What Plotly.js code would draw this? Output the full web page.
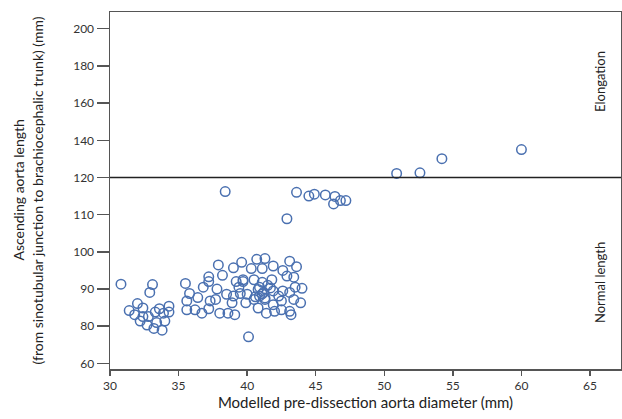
<!DOCTYPE html>
<html>
<head>
<meta charset="utf-8">
<script src="https://cdn.plot.ly/plotly-3.0.1.min.js"></script>
<style>html,body{margin:0;padding:0;background:#fff;}#chart{width:622px;height:419px;}</style>
</head>
<body>
<div id="chart"></div>
<script>
// Modelled pre-dissection aorta diameter (mm)
var diameter = [
  38.4, 43.6, 44.5, 44.9, 45.7, 46.4, 46.3, 46.8, 47.2, 42.9,
  50.9, 52.6, 54.2, 60.0,
  30.8, 33.1, 32.9, 31.4, 32.0, 31.8, 32.4, 32.2, 32.7, 33.2,
  33.8, 32.8, 33.3, 33.6, 34.3, 34.3, 34.0, 33.4, 32.4, 33.9,
  35.5, 35.8, 35.6, 35.6, 36.2, 36.7, 36.4, 36.8, 37.2, 37.2,
  37.3, 37.2, 37.9, 37.8, 37.7, 38.2, 38.0, 38.6, 39.1, 38.5,
  39.0, 39.6, 39.2, 39.4, 39.7, 39.5, 39.9, 38.9, 39.0, 40.1,
  40.7, 41.3, 40.3, 41.1, 41.9, 42.6, 43.1, 43.6, 42.9, 43.4,
  43.5, 44.0, 43.1, 43.4, 43.1, 43.2, 42.5, 41.9, 41.4, 40.8,
  40.5, 40.0, 39.7, 40.5, 40.9, 41.2, 41.5, 41.9, 42.3, 42.6,
  41.8, 41.3, 40.9, 42.5, 42.0, 43.9, 40.8, 41.1, 41.3, 41.7,
  40.6, 41.1
];
// Ascending aorta length (mm)
var aortaLength = [
  116.2, 116.0, 115.0, 115.5, 115.3, 114.9, 112.9, 113.8, 113.8, 108.9,
  122.2, 122.5, 130.1, 135.0,
  91.3, 91.2, 89.1, 84.2, 86.1, 83.1, 84.9, 81.4, 80.3, 78.8,
  77.9, 82.6, 83.8, 84.7, 85.4, 83.8, 81.4, 81.0, 82.6, 83.5,
  91.5, 88.8, 86.8, 84.4, 84.4, 83.5, 87.7, 90.5, 93.3, 92.0,
  86.8, 84.7, 96.5, 90.0, 87.2, 93.7, 83.5, 83.5, 83.1, 88.6,
  95.7, 97.2, 92.0, 90.5, 92.5, 88.8, 86.3, 86.3, 88.1, 74.3,
  98.0, 98.2, 95.5, 95.5, 96.2, 95.0, 97.5, 96.0, 93.5, 93.2,
  90.5, 90.2, 89.1, 87.2, 84.0, 83.1, 84.4, 85.8, 83.5, 84.9,
  87.2, 88.6, 92.0, 92.5, 90.5, 89.1, 91.0, 89.5, 88.1, 89.5,
  92.5, 87.2, 88.1, 86.8, 84.0, 86.3, 89.9, 88.7, 87.6, 90.3,
  87.9, 91.8
];
// Unevenly spaced y-axis tick values (each drawn at an equal step)
var yTickValues = [60, 80, 90, 100, 110, 120, 140, 160, 180, 200];
var xTickValues = [30, 35, 40, 45, 50, 55, 60, 65];
var thresholdLength = 120;
var regionLabels = ["Elongation", "Normal length"];

function ymap(v) {
  var t = yTickValues;
  if (v <= t[0]) return (v - t[0]) / (t[1] - t[0]);
  for (var i = 0; i < t.length - 1; i++) {
    if (v <= t[i + 1]) return i + (v - t[i]) / (t[i + 1] - t[i]);
  }
  var n = t.length - 1;
  return n + (v - t[n]) / (t[n] - t[n - 1]);
}

var blue = "rgb(74,112,176)";
var traces = [{
  type: "scatter",
  mode: "markers",
  x: diameter,
  y: aortaLength.map(ymap),
  marker: { symbol: "circle-open", size: 9.5, color: blue, line: { width: 1.5, color: blue } },
  hoverinfo: "skip",
  showlegend: false
}];

var fontFam = "Lato, 'Open Sans', sans-serif";
var layout = {
  width: 622, height: 419,
  margin: { l: 110, r: 1, t: 12, b: 50 },
  paper_bgcolor: "#fff", plot_bgcolor: "#fff",
  showlegend: false,
  font: { family: fontFam, color: "#333" },
  xaxis: {
    range: [30, 67.26],
    tickvals: xTickValues,
    ticktext: xTickValues.map(String),
    ticks: "outside", ticklen: 5, tickwidth: 1.5, tickcolor: "#555",
    showline: true, linecolor: "#555", linewidth: 1.5, mirror: true,
    showgrid: false, zeroline: false,
    tickfont: { size: 12, color: "#333", family: fontFam },
    title: { text: "Modelled pre-dissection aorta diameter (mm)", font: { size: 15, color: "#222", family: fontFam }, standoff: 4 }
  },
  yaxis: {
    range: [-0.15, 9.45],
    tickvals: yTickValues.map(ymap),
    ticktext: yTickValues.map(String),
    ticks: "outside", ticklen: 12, tickwidth: 1.5, tickcolor: "#555",
    showline: true, linecolor: "#555", linewidth: 1.5, mirror: true,
    showgrid: false, zeroline: false,
    tickfont: { size: 12, color: "#333", family: fontFam }
  },
  shapes: [{
    type: "line", xref: "paper", x0: 0, x1: 1, yref: "y",
    y0: ymap(thresholdLength), y1: ymap(thresholdLength),
    line: { color: "#222", width: 1.5 }
  }],
  annotations: [
    { text: "Ascending aorta length", xref: "paper", yref: "paper", x: -0.180, y: 0.5,
      textangle: -90, showarrow: false, xanchor: "center", yanchor: "middle",
      font: { size: 14, color: "#222", family: fontFam } },
    { text: "(from sinotubular junction to brachiocephalic trunk) (mm)", xref: "paper", yref: "paper", x: -0.141, y: 0.5,
      textangle: -90, showarrow: false, xanchor: "center", yanchor: "middle",
      font: { size: 14, color: "#222", family: fontFam } },
    { text: regionLabels[0], xref: "paper", yref: "paper", x: (600 - 110) / 511, y: (369 - 82) / 357,
      textangle: -90, showarrow: false, xanchor: "center", yanchor: "middle",
      font: { size: 13, color: "#222", family: fontFam } },
    { text: regionLabels[1], xref: "paper", yref: "paper", x: (600 - 110) / 511, y: (369 - 283) / 357,
      textangle: -90, showarrow: false, xanchor: "center", yanchor: "middle",
      font: { size: 13, color: "#222", family: fontFam } }
  ]
};

Plotly.newPlot("chart", traces, layout, { displayModeBar: false, staticPlot: true });
</script>
</body>
</html>
